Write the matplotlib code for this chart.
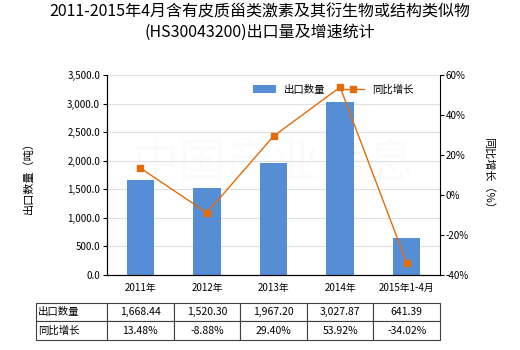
import matplotlib.pyplot as plt
import numpy as np

plt.rcParams['font.family'] = ['Noto Sans CJK SC', 'DejaVu Sans']

# 出口数据
categorias = ['2011年', '2012年', '2013年', '2014年', '2015年1-4月']
cantidad = [1668.44, 1520.30, 1967.20, 3027.87, 641.39]
crecimiento = [13.48, -8.88, 29.40, 53.92, -34.02]
etiquetas_cantidad = ['1,668.44', '1,520.30', '1,967.20', '3,027.87', '641.39']
etiquetas_crec = ['13.48%', '-8.88%', '29.40%', '53.92%', '-34.02%']

color_barra = '#558ED5'
color_linea = '#E46C0A'

fig = plt.figure(figsize=(5.2, 3.5), dpi=100)
ax = fig.add_axes([0.2058, 0.2143, 0.6404, 0.5714])
x = np.arange(len(categorias))

barras = ax.bar(x, cantidad, width=0.41, color=color_barra, label='出口数量', zorder=2)
ax.set_ylim(0, 3500)
ax.set_xlim(-0.5, len(categorias) - 0.5)
ax.set_yticks(np.arange(0, 3501, 500))
ax.set_yticklabels([f'{v:,.1f}' for v in np.arange(0, 3501, 500)], fontsize=7)
ax.set_xticks(x)
ax.set_xticklabels(categorias, fontsize=7)
ax.tick_params(axis='x', length=0, pad=6)
ax.tick_params(axis='y', length=3, pad=2)
ax.grid(axis='y', color='#E0E0E0', linewidth=0.8, zorder=0)
ax.spines['top'].set_visible(False)
ax.spines['right'].set_visible(False)
ax.set_ylabel('出口数量（吨）', fontsize=8, labelpad=24)

ax2 = ax.twinx()
linea, = ax2.plot(x, crecimiento, color=color_linea, linewidth=1, marker='s',
                  markersize=4, label='同比增长', zorder=3)
ax2.set_ylim(-40, 60)
ax2.set_yticks(np.arange(-40, 61, 20))
ax2.set_yticklabels([f'{v}%' for v in range(-40, 61, 20)], fontsize=7)
ax2.tick_params(axis='y', length=3, pad=1)
ax2.spines['top'].set_visible(False)
ax2.set_ylabel('同比增长（%）', fontsize=8, rotation=270, labelpad=18)

# 水印
ax.text(0.5, 0.55, '中国产业信息', transform=ax.transAxes, fontsize=34,
        color='#F7F7F7', ha='center', va='center', alpha=0.4, zorder=1)

ax.legend([barras, linea], ['出口数量', '同比增长'], loc='upper right',
          bbox_to_anchor=(0.95, 1.0), ncol=2, frameon=False, fontsize=7.5,
          handlelength=2.2, columnspacing=1.5)

fig.suptitle('2011-2015年4月含有皮质甾类激素及其衍生物或结构类似物\n(HS30043200)出口量及增速统计',
             fontsize=11.5, y=0.99, linespacing=1.25)

# 数据表：第一列为行名
filas = [['出口数量'] + etiquetas_cantidad, ['同比增长'] + etiquetas_crec]
ancho_nombre = 71 / 333
tabla = ax.table(cellText=filas, cellLoc='center',
                 bbox=[-ancho_nombre, -0.325, 1.0 + ancho_nombre, 0.185])
tabla.auto_set_font_size(False)
tabla.set_fontsize(7.5)
for (r, c), celda in tabla.get_celld().items():
    celda.set_linewidth(0.8)
    celda.set_edgecolor('#404040')
    if c == 0:
        celda.set_width(ancho_nombre)
        celda.get_text().set_horizontalalignment('left')
        celda.PAD = 0.03
    else:
        celda.set_width(0.2)

fig.savefig('out.png', dpi=100)
